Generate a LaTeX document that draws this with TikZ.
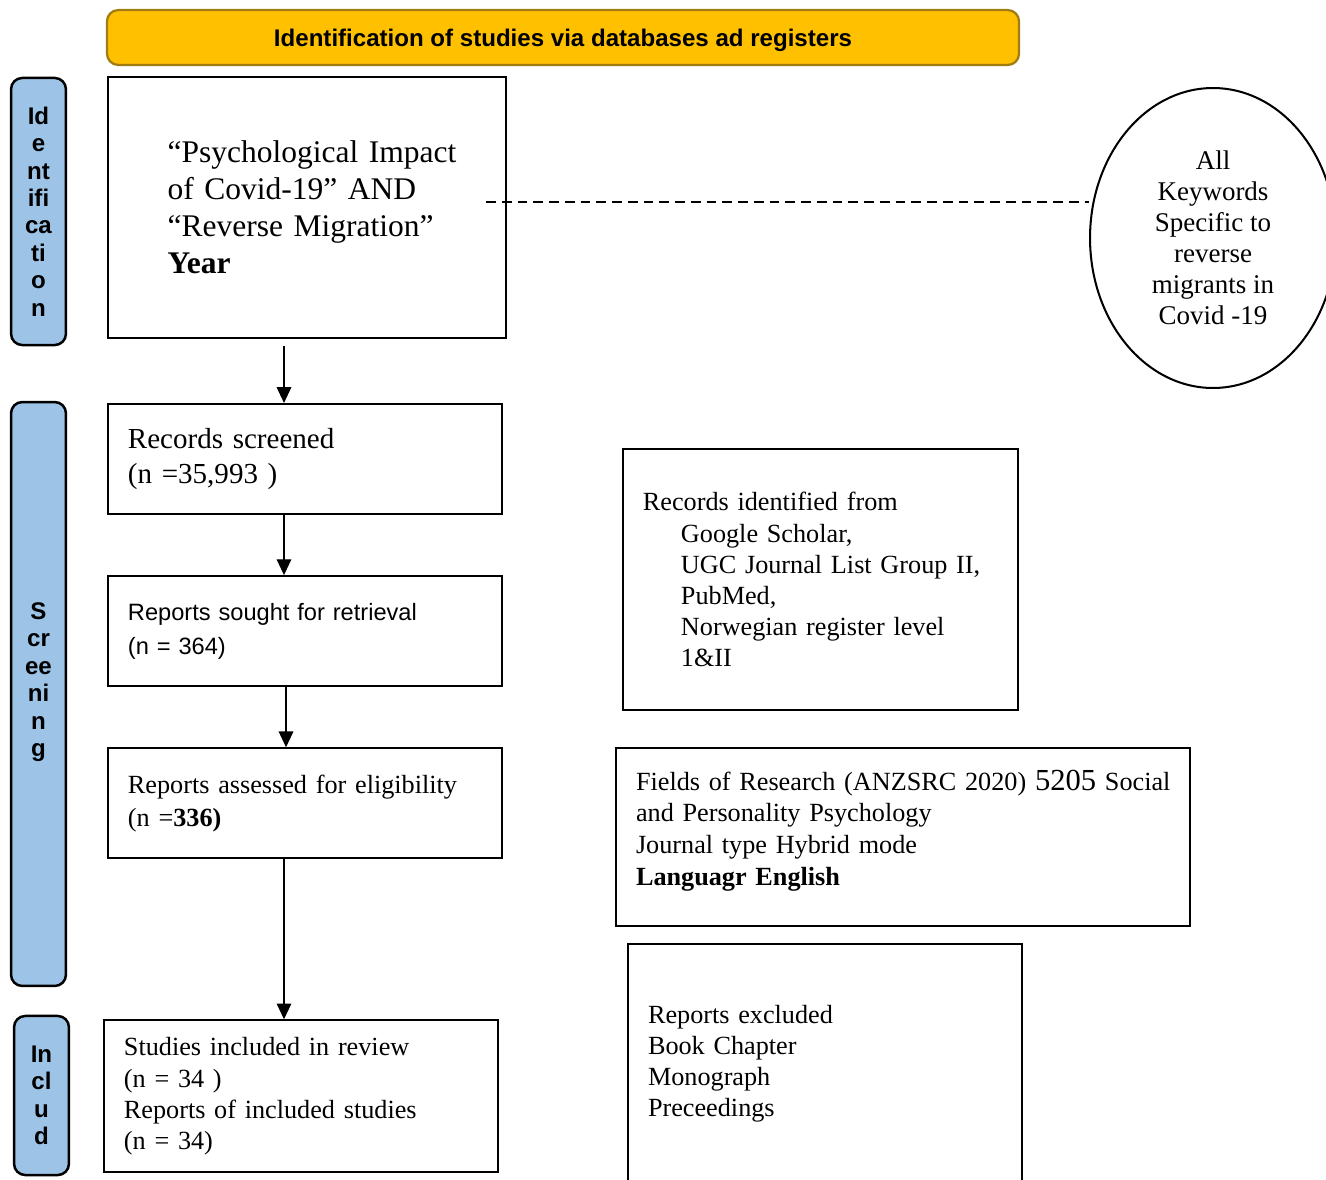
\documentclass[tikz,border=0pt]{standalone}
\usepackage{fontspec}
\setmainfont{Liberation Serif}
\setsansfont{Liberation Sans}
\usepackage{tikz}
\usetikzlibrary{arrows.meta,positioning,shapes.geometric}
\definecolor{headyellow}{HTML}{FFC000}
\definecolor{headborder}{HTML}{A07D12}
\definecolor{sideblue}{HTML}{9DC3E6}

\begin{document}
\begin{tikzpicture}[
    x=0.4444pt, y=-0.4444pt,
    >={Triangle[length=7pt,width=6.5pt]},
    font=\fontsize{11.65}{13.8}\selectfont,
    box/.style={
		rectangle,
		draw=black,
		line width=0.9pt,
		align=left,
		inner xsep=8.9pt,
		inner ysep=0pt,
		text width=157.3pt,
		minimum height=48.9pt,
		fill=white
	},
	phase/.style={
		rectangle,
		rounded corners=5pt,
		draw=black,
		line width=1.1pt,
		fill=sideblue,
		minimum width=24.4pt,
		inner sep=1pt,
		align=center,
		font=\sffamily\bfseries\fontsize{10.7}{12.2}\selectfont
	},
	flow/.style={
		->,
		line width=0.5pt
	},
	dashlink/.style={
		dash pattern=on 4.4pt off 2.6pt,
		line width=0.9pt
	}
  ]
  \useasboundingbox (0,0) rectangle (1326,1180);

  % We start by placing the header and the phase labels
  \node [rectangle, rounded corners=5pt, draw=headborder, line width=1pt, fill=headyellow,
    minimum width=405.3pt, minimum height=24.4pt, text depth=0pt,
    font=\sffamily\bfseries\fontsize{10.7}{12}\selectfont] (head) at (563,37.5)
 {Identification of studies via databases ad registers};

  \node [phase, minimum height=118.7pt] (sideid) at (38.5,211.5) {Id\\e\\nt\\ifi\\ca\\ti\\o\\n};
  \node [phase, minimum height=259.5pt] (sidescr) at (38.5,694) {S\\cr\\ee\\ni\\n\\g\\[0.7pt]\mbox{}};
  \node [phase, minimum height=70.7pt] (sideinc) at (41.5,1095.5) {In\\cl\\u\\d};

  % main flow
  \node [box, minimum height=116pt, text width=123.9pt, inner xsep=26.5pt,
    font=\fontsize{14}{16.5}\selectfont] (search) at (307,207.5)
 {%
  \mbox{“Psychological Impact}\\
  of Covid-19” AND\\
  “Reverse Migration”\\
  \textbf{Year}
 };

  \node [box, below=28.4pt of search, xshift=-0.9pt, font=\fontsize{12.9}{15.6}\selectfont] (screened)
 {%
  Records screened\\
  (n =35,993 )
 };

  \node [box, below=26.7pt of screened, font=\sffamily\fontsize{10.5}{15}\selectfont] (sought)
 {%
  Reports sought for retrieval\\
  (n = 364)
 };

  \node [box, below=26.7pt of sought, font=\fontsize{11.65}{14.7}\selectfont] (assessed)
 {%
  Reports assessed for eligibility\\
  (n =\textbf{336)}
 };

  \node [box, below=71.1pt of assessed, xshift=-1.8pt, minimum height=67.5pt] (included)
 {%
  Studies included in review\\
  (n = 34 )\\
  Reports of included studies\\
  (n = 34)
 };

  % right hand side
  \node [ellipse, draw=black, line width=0.9pt, minimum width=109.3pt, minimum height=133.3pt,
    align=center, inner sep=0pt, font=\fontsize{12}{13.8}\selectfont] (keywords) at (1213,238)
 {All\\Keywords\\Specific to\\reverse\\migrants in\\Covid -19};

  \node [box, minimum height=116pt, text width=157.8pt] (sources) at (820.5,579.5)
 {%
  Records identified from\\
  \hspace*{16.9pt}Google Scholar,\\
  \hspace*{16.9pt}UGC Journal List Group II,\\
  \hspace*{16.9pt}PubMed,\\
  \hspace*{16.9pt}Norwegian register level\\
  \hspace*{16.9pt}1\&II
 };

  \node [box, minimum height=79.1pt, text width=237.3pt, font=\fontsize{11.65}{14.2}\selectfont] (fields) at (903,837)
 {%
  \mbox{Fields of Research (ANZSRC 2020) {\fontsize{13.6}{14}\selectfont 5205} Social}\\
  and Personality Psychology\\
  Journal type Hybrid mode\\
  \textbf{Languagr English}\\[-6pt]\mbox{}
 };

  \node [box, minimum height=106.7pt] (excluded) at (825,1064)
 {%
  Reports excluded\\
  Book Chapter\\
  Monograph\\
  Preceedings
 };

  % connectors
  \coordinate (arrx) at (284,0);
  \coordinate (kwlink) at (486,202);

  \draw [flow, shorten <=3pt] (search.south -| arrx) -- (screened.north -| arrx);
  \draw [flow] (screened.south -| arrx) -- (sought.north -| arrx);
  \draw [flow] ([xshift=0.9pt]sought.south -| arrx) -- ([xshift=0.9pt]assessed.north -| arrx);
  \draw [flow] (assessed.south -| arrx) -- (included.north -| arrx);
  \draw [dashlink] (kwlink) -- (kwlink -| keywords.west);

\end{tikzpicture}
\end{document}
